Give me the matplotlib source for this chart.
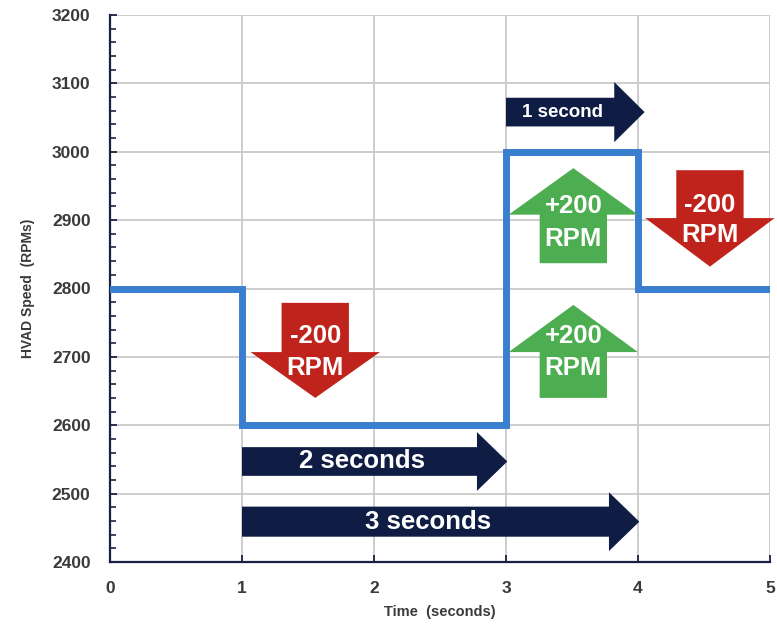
import matplotlib
matplotlib.use("Agg")
import matplotlib.pyplot as plt
from matplotlib.patches import Polygon
from matplotlib.ticker import MultipleLocator

plt.rcParams["font.family"] = ["Liberation Sans", "DejaVu Sans"]

# Pump speed profile (step changes)
time_s = [0, 1, 3, 4, 5]
speed_rpm = [2800, 2600, 3000, 2800, 2800]

# Annotated speed changes and interval lengths
step_changes = [-200, +200, +200, -200]
durations = [1, 2, 3]
duration_labels = ["1 second", "2 seconds", "3 seconds"]

x_ticks = [0, 1, 2, 3, 4, 5]
y_ticks = [2400, 2500, 2600, 2700, 2800, 2900, 3000, 3100, 3200]

LINE_BLUE = "#3a7ecf"
RED = "#c0231c"
GREEN = "#4cae50"
NAVY = "#0f1d45"
GRID = "#c9c9c9"
AXIS = "#1b2142"
TICKTXT = "#3a3a3a"

fig = plt.figure(figsize=(7.77, 6.29), dpi=100)
ax = fig.add_axes([110 / 777, 67 / 629, 660 / 777, 547 / 629])
ax.set_xlim(x_ticks[0], x_ticks[-1])
ax.set_ylim(y_ticks[0], y_ticks[-1])

ax.set_xticks(x_ticks)
ax.set_yticks(y_ticks)
ax.yaxis.set_minor_locator(MultipleLocator(20))
ax.grid(True, which="major", color=GRID, linewidth=1.3, zorder=0)
for s in ["top", "right"]:
    ax.spines[s].set_visible(False)
for s in ["left", "bottom"]:
    ax.spines[s].set_color(AXIS)
    ax.spines[s].set_linewidth(1.6)
ax.tick_params(axis="both", which="major", direction="in", length=5,
               width=1.3, color=AXIS, labelcolor=TICKTXT, labelsize=12.5, pad=14)
ax.tick_params(axis="y", which="minor", direction="in", length=4,
               width=1.2, color=AXIS)
for lbl in ax.get_xticklabels() + ax.get_yticklabels():
    lbl.set_fontweight("bold")

ax.set_xlabel("Time  (seconds)", fontsize=10.5, fontweight="bold",
              color=TICKTXT, labelpad=6)
ax.set_ylabel("HVAD Speed  (RPMs)", fontsize=10, fontweight="bold",
              color=TICKTXT, labelpad=12)

# Speed trace
ax.step(time_s, speed_rpm, where="post", color=LINE_BLUE, linewidth=5,
        solid_joinstyle="miter", zorder=4)


def vertical_arrow(cx, tail_y, base_y, tip_y, shaft_hw, head_hw, color):
    pts = [(cx - shaft_hw, tail_y), (cx + shaft_hw, tail_y),
           (cx + shaft_hw, base_y), (cx + head_hw, base_y),
           (cx, tip_y), (cx - head_hw, base_y), (cx - shaft_hw, base_y)]
    ax.add_patch(Polygon(pts, closed=True, facecolor=color, edgecolor="none",
                         zorder=5, clip_on=False))


def horizontal_arrow(x0, head_x, tip_x, cy, shaft_hh, head_hh, color):
    pts = [(x0, cy - shaft_hh), (head_x, cy - shaft_hh), (head_x, cy - head_hh),
           (tip_x, cy), (head_x, cy + head_hh), (head_x, cy + shaft_hh),
           (x0, cy + shaft_hh)]
    ax.add_patch(Polygon(pts, closed=True, facecolor=color, edgecolor="none",
                         zorder=5, clip_on=False))


def change_label(delta):
    return f"{delta:+d}" if delta > 0 else f"-{abs(delta)}"


# Speed-change arrows: (centre x, tail, head base, tip, text y's)
change_arrows = [
    (1.555, 2779, 2707, 2640, (2730, 2684)),
    (3.51, 2640, 2707, 2776, (2730, 2684)),
    (3.51, 2837, 2908, 2976, (2921, 2873)),
    (4.545, 2973, 2903, 2832, (2922, 2878)),
]
for delta, (cx, tail, base, tip, (ty1, ty2)) in zip(step_changes, change_arrows):
    color = GREEN if delta > 0 else RED
    vertical_arrow(cx, tail, base, tip, 0.255, 0.49, color)
    ax.text(cx, ty1, change_label(delta), color="white", fontsize=18.5,
            fontweight="bold", ha="center", va="center", zorder=6)
    ax.text(cx, ty2, "RPM", color="white", fontsize=18.5,
            fontweight="bold", ha="center", va="center", zorder=6)

# Interval arrows: (start, centre y, shaft half-height, head half-height, font size)
interval_arrows = [
    (3.0, 3058, 21, 44, 13.5),
    (1.0, 2547, 21, 43, 18.5),
    (1.0, 2459, 22, 43, 18.5),
]
for dur, label, (x0, cy, shh, hhh, fs) in zip(durations, duration_labels, interval_arrows):
    tip = x0 + dur + (0.05 if dur == 1 else 0.01)
    head_x = tip - 0.23
    horizontal_arrow(x0, head_x, tip, cy, shh, hhh, NAVY)
    ax.text((x0 + head_x) / 2 + 0.02, cy, label, color="white", fontsize=fs,
            fontweight="bold", ha="center", va="center", zorder=6)

fig.savefig("out.png", dpi=100, facecolor="white")
